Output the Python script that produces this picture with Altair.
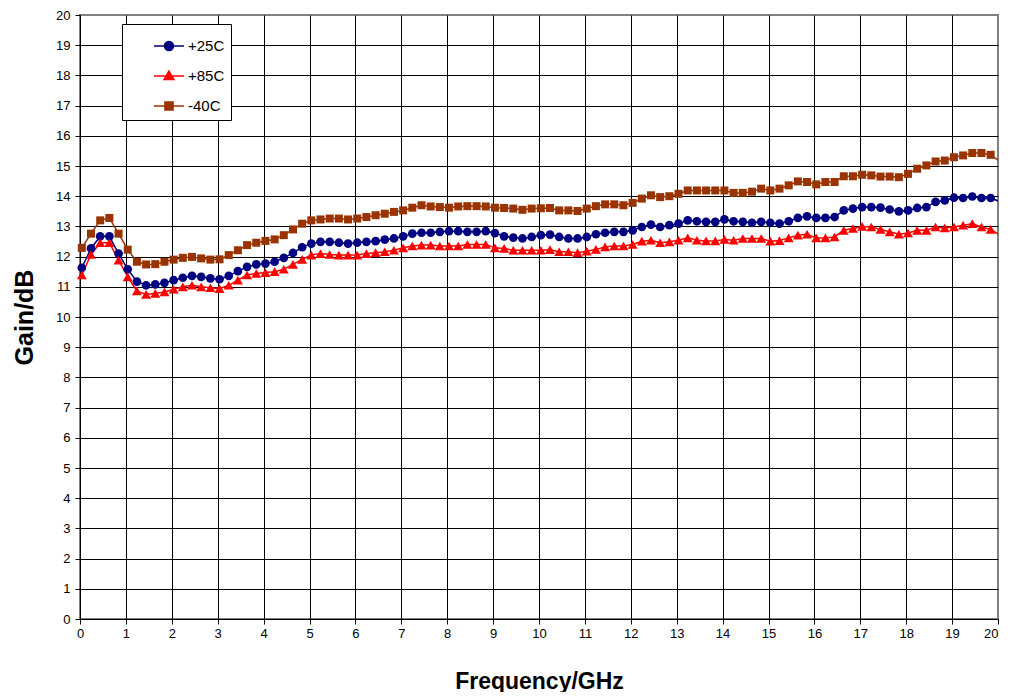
import altair as alt
import pandas as pd

series_names = ["+25C", "+85C", "-40C"]
series_colors = ["#000080", "#FF0000", "#993300"]
marker_shapes = ["circle", "triangle-up", "square"]
marker_sizes = [76, 100, 64]
legend_paths = [
    "M-1,0H1M-0.3,0A0.3,0.3,0,1,0,0.3,0A0.3,0.3,0,1,0,-0.3,0Z",
    "M-1,0H1M0,-0.33L0.33,0.24L-0.33,0.24Z",
    "M-1,0H1M-0.27,-0.27H0.27V0.27H-0.27Z",
]

# sweep points (GHz), 0.2 GHz step; last point lies just past 20 GHz
freq_ghz = [round(0.04 + 0.2 * k, 2) for k in range(101)]

gain_p25 = [
    11.63, 12.27, 12.67, 12.67, 12.10, 11.58, 11.17, 11.05, 11.08, 11.13,
    11.22, 11.30, 11.36, 11.33, 11.28, 11.25, 11.36, 11.52, 11.66, 11.74,
    11.77, 11.83, 11.96, 12.12, 12.31, 12.43, 12.49,
    12.49, 12.46, 12.43, 12.46, 12.49, 12.51, 12.56, 12.60, 12.67, 12.76,
    12.79, 12.79, 12.82, 12.84, 12.84, 12.82, 12.82, 12.84, 12.78, 12.67,
    12.63, 12.60, 12.65, 12.71, 12.73,
    12.65, 12.60, 12.60, 12.65, 12.74, 12.79, 12.82, 12.82, 12.87, 12.98,
    13.06, 12.98, 13.04, 13.09, 13.20, 13.17, 13.15, 13.15, 13.23, 13.17,
    13.15, 13.12, 13.15, 13.12, 13.09,
    13.17, 13.28, 13.33, 13.28, 13.28, 13.31, 13.53, 13.59, 13.64, 13.64,
    13.62, 13.56, 13.50, 13.53, 13.61, 13.64, 13.81, 13.86, 13.95, 13.94,
    13.99, 13.94, 13.94,
    13.82,
]

gain_p85 = [
    11.39, 12.07, 12.46, 12.46, 11.88, 11.33, 10.86, 10.75, 10.78, 10.83,
    10.92, 11.00, 11.05, 11.00, 10.97, 10.94, 11.05, 11.22, 11.39, 11.44,
    11.47, 11.50, 11.58, 11.74, 11.91, 12.05, 12.10,
    12.07, 12.05, 12.05, 12.05, 12.10, 12.13, 12.16, 12.21, 12.29, 12.35,
    12.38, 12.38, 12.35, 12.35, 12.35, 12.40, 12.40, 12.40, 12.29, 12.27,
    12.21, 12.21, 12.21, 12.21, 12.23,
    12.16, 12.16, 12.13, 12.18, 12.24, 12.32, 12.35, 12.35, 12.40, 12.51,
    12.54, 12.46, 12.49, 12.54, 12.62, 12.54, 12.52, 12.52, 12.57, 12.54,
    12.60, 12.60, 12.60, 12.51, 12.53,
    12.62, 12.71, 12.74, 12.62, 12.62, 12.65, 12.87, 12.93, 13.00, 12.98,
    12.90, 12.82, 12.74, 12.78, 12.87, 12.87, 12.98, 12.95, 12.98, 13.04,
    13.09, 12.98, 12.90,
    12.72,
]

gain_m40 = [
    12.29, 12.76, 13.20, 13.28, 12.76, 12.23, 11.83, 11.74, 11.75, 11.83,
    11.90, 11.96, 11.99, 11.94, 11.90, 11.91, 12.05, 12.21, 12.38, 12.46,
    12.52, 12.57, 12.71, 12.90, 13.09, 13.20, 13.23,
    13.26, 13.26, 13.23, 13.26, 13.31, 13.37, 13.42, 13.48, 13.53, 13.62,
    13.70, 13.66, 13.64, 13.62, 13.66, 13.67, 13.67, 13.66, 13.62, 13.61,
    13.59, 13.55, 13.59, 13.60, 13.61,
    13.53, 13.53, 13.51, 13.59, 13.67, 13.73, 13.73, 13.70, 13.78, 13.92,
    14.03, 13.97, 14.00, 14.08, 14.19, 14.19, 14.19, 14.19, 14.19, 14.11,
    14.11, 14.15, 14.25, 14.19, 14.25,
    14.36, 14.49, 14.47, 14.39, 14.47, 14.47, 14.66, 14.66, 14.71, 14.69,
    14.65, 14.65, 14.63, 14.74, 14.91, 15.02, 15.15, 15.18, 15.29, 15.35,
    15.43, 15.43, 15.37,
    15.15,
]

axis_ticks = list(range(0, 21))

rows = []
for name, vals in zip(series_names, [gain_p25, gain_p85, gain_m40]):
    for f, g in zip(freq_ghz, vals):
        rows.append({"freq": f, "gain": g, "series": name})
df = pd.DataFrame(rows)

FONT = "Liberation Sans"
grid_color = {"condition": {"test": "datum.value >= 20", "value": "transparent"}, "value": "#000000"}

x_axis = alt.Axis(
    values=axis_ticks, title="Frequency/GHz", tickSize=5, labelPadding=3,
    grid=True, gridColor=grid_color, gridWidth=1,
    labelAlign={"condition": {"test": "datum.value >= 20", "value": "right"}, "value": "center"},
    titleFontSize=23, titleFontWeight="bold", titleY=69, titleBaseline="alphabetic",
    labelFlush=False, labelOverlap=False,
)
y_axis = alt.Axis(
    values=axis_ticks, title="Gain/dB", tickSize=5, labelPadding=5,
    grid=True, gridColor=grid_color, gridWidth=1,
    titleFontSize=25, titleFontWeight="bold", titleX=-48, titleY=302,
    titleAngle=270, titleBaseline="alphabetic", titleAlign="center",
    labelFlush=False, labelOverlap=False,
)

x_enc = alt.X("freq:Q", scale=alt.Scale(domain=[0, 20], nice=False, zero=False), axis=x_axis)
y_enc = alt.Y("gain:Q", scale=alt.Scale(domain=[0, 20], nice=False), axis=y_axis)

base = alt.Chart(df)

layers = []
for name, col in zip(series_names, series_colors):
    layers.append(
        base.transform_filter(f"datum.series == '{name}'")
        .mark_line(strokeWidth=1.5, clip=True, color=col)
        .encode(x_enc, y_enc)
    )
for name, col, shp, sz in zip(series_names, series_colors, marker_shapes, marker_sizes):
    layers.append(
        base.transform_filter(f"datum.series == '{name}' && datum.freq <= 20")
        .mark_point(shape=shp, size=sz, filled=True, opacity=1, color=col)
        .encode(x_enc, y_enc)
    )

pad = "\u2003\u2002"
leg = alt.Legend(
    title=None, orient="none", legendX=42, legendY=9,
    labelExpr=f"datum.label + '{pad}'",
)
# legend-only layer: its own marks sit outside the plot and are clipped away
legend_layer = (
    base.transform_filter("datum.freq < 0.1")
    .transform_calculate(gain="-100")
    .mark_point(filled=True, opacity=1, size=900, strokeWidth=1.5, clip=True)
    .encode(
        x_enc, y_enc,
        fill=alt.Fill("series:N", scale=alt.Scale(domain=series_names, range=series_colors), legend=leg),
        stroke=alt.Stroke("series:N", scale=alt.Scale(domain=series_names, range=series_colors), legend=leg),
        shape=alt.Shape("series:N", scale=alt.Scale(domain=series_names, range=legend_paths), legend=leg),
    )
)
layers.append(legend_layer)

chart = (
    alt.layer(*layers)
    .properties(
        width=918, height=604,
        autosize=alt.AutoSizeParams(type="none"),
        padding={"left": 72, "top": 7, "right": 4, "bottom": 73},
        background="white",
    )
    .configure_view(stroke="#808080", strokeWidth=2)
    .configure_axis(
        labelFont=FONT, titleFont=FONT, labelFontSize=13, labelColor="#000000",
        titleColor="#000000", domainColor="#000000", tickColor="#000000",
        domainWidth=1, tickWidth=1,
    )
    .configure_legend(
        padding=6, strokeColor="#000000", fillColor="white", symbolSize=900,
        rowPadding=6, labelFont=FONT, labelFontSize=15, labelColor="#000000",
        symbolOffset=25, labelOffset=3, symbolStrokeWidth=1.5,
    )
)

chart.save("out.html", embed_options={"renderer": "svg", "actions": False})
